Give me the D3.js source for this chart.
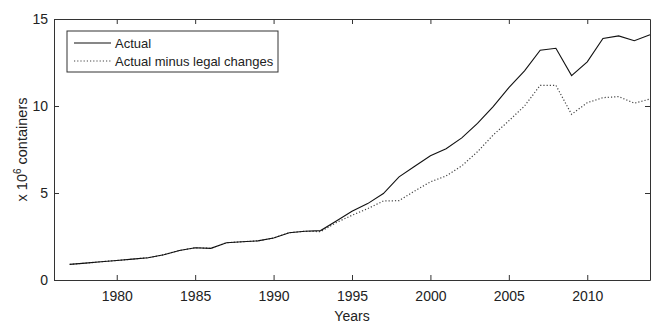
<!DOCTYPE html>
<html>
<head>
<meta charset="utf-8">
<script src="https://cdn.jsdelivr.net/npm/d3@7"></script>
<style>
  body { margin: 0; background: #fff; }
  svg text { font-family: "Liberation Sans", Arial, sans-serif; fill: #222; }
</style>
</head>
<body>
<svg id="chart" width="651" height="323"></svg>
<script>
// values (x 10^6 containers)
var years = d3.range(1977, 2015);
var actual = [0.9, 0.97, 1.05, 1.12, 1.2, 1.28, 1.45, 1.7, 1.85, 1.82,
              2.14, 2.2, 2.25, 2.41, 2.72, 2.8, 2.84, 3.39, 3.95, 4.39,
              4.97, 5.93, 6.54, 7.14, 7.54, 8.17, 9.0, 9.96, 11.06, 12.02,
              13.21, 13.32, 11.75, 12.54, 13.88, 14.03, 13.75, 14.09];
var minusLegal = [0.9, 0.97, 1.05, 1.12, 1.2, 1.28, 1.45, 1.7, 1.85, 1.82,
                  2.14, 2.2, 2.25, 2.41, 2.72, 2.8, 2.78, 3.3, 3.72, 4.1,
                  4.54, 4.56, 5.12, 5.64, 5.98, 6.56, 7.37, 8.33, 9.15, 10.0,
                  11.19, 11.19, 9.52, 10.19, 10.48, 10.54, 10.16, 10.4];
var xTicks = [1980, 1985, 1990, 1995, 2000, 2005, 2010];
var yTicks = [0, 5, 10, 15];

var svg = d3.select("#chart"),
    m = {top: 19, right: 1, bottom: 43, left: 54},
    W = 651, H = 323,
    x = d3.scaleLinear().domain([1976, 2014]).range([m.left, W - m.right]),
    y = d3.scaleLinear().domain([0, 15]).range([H - m.bottom, m.top]);

var tick = -5;

svg.append("g")
  .attr("transform", "translate(0," + (H - m.bottom) + ")")
  .call(d3.axisBottom(x).tickValues(xTicks).tickFormat(d3.format("d"))
    .tickSizeInner(tick).tickSizeOuter(0).tickPadding(11))
  .call(function(g) { g.selectAll("text").attr("font-size", 14); });

svg.append("g")
  .attr("transform", "translate(0," + m.top + ")")
  .call(d3.axisTop(x).tickValues(xTicks).tickFormat("")
    .tickSizeInner(tick).tickSizeOuter(0));

svg.append("g")
  .attr("transform", "translate(" + m.left + ",0)")
  .call(d3.axisLeft(y).tickValues(yTicks)
    .tickSizeInner(tick).tickSizeOuter(0).tickPadding(6))
  .call(function(g) { g.selectAll("text").attr("font-size", 14); });

svg.append("g")
  .attr("transform", "translate(" + (W - m.right) + ",0)")
  .call(d3.axisRight(y).tickValues(yTicks).tickFormat("")
    .tickSizeInner(tick).tickSizeOuter(0));

svg.selectAll(".domain, .tick line").attr("stroke", "#333");
svg.selectAll("g text").attr("font-family", "Liberation Sans, Arial, sans-serif").attr("fill", "#222");

var line = d3.line()
  .x(function(d, i) { return x(years[i]); })
  .y(function(d) { return y(d); });

svg.append("path")
  .datum(minusLegal)
  .attr("d", line)
  .attr("fill", "none")
  .attr("stroke", "#444")
  .attr("stroke-width", 1.2)
  .attr("stroke-dasharray", "1.2,2");

svg.append("path")
  .datum(actual)
  .attr("d", line)
  .attr("fill", "none")
  .attr("stroke", "#111")
  .attr("stroke-width", 1.1);

// axis titles
svg.append("text")
  .attr("x", (m.left + W - m.right) / 2)
  .attr("y", 321)
  .attr("text-anchor", "middle")
  .attr("font-size", 14)
  .text("Years");

var yt = svg.append("text")
  .attr("transform", "translate(27," + ((m.top + H - m.bottom) / 2) + ") rotate(-90)")
  .attr("text-anchor", "middle")
  .attr("font-size", 14.5);
yt.append("tspan").text("x 10");
yt.append("tspan").attr("dy", -6).attr("font-size", 10).text("6");
yt.append("tspan").attr("dy", 6).text(" containers");

// legend
var lg = svg.append("g").attr("transform", "translate(67,31)");
lg.append("rect")
  .attr("width", 211).attr("height", 41)
  .attr("fill", "#fff").attr("stroke", "#333");
var items = [
  {label: "Actual", dash: null, color: "#111"},
  {label: "Actual minus legal changes", dash: "1.2,2", color: "#444"}
];
items.forEach(function(d, i) {
  var yy = 12 + i * 18;
  lg.append("line")
    .attr("x1", 7).attr("x2", 44).attr("y1", yy).attr("y2", yy)
    .attr("stroke", d.color).attr("stroke-width", 1.1)
    .attr("stroke-dasharray", d.dash);
  lg.append("text")
    .attr("x", 48).attr("y", yy + 4.5)
    .attr("font-size", 13)
    .text(d.label);
});
</script>
</body>
</html>
